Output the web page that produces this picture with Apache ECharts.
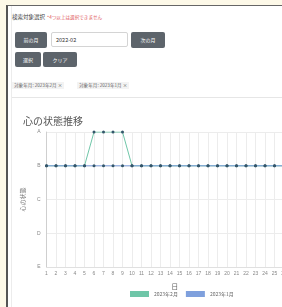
<!DOCTYPE html>
<html>
<head>
<meta charset="utf-8">
<script src="https://cdn.jsdelivr.net/npm/echarts@6/dist/echarts.min.js"></script>
<style>
  html, body { margin: 0; padding: 0; width: 282px; height: 307px; overflow: hidden; background: #fdf9e8; font-family: "Noto Sans CJK JP", sans-serif; }
  .frame { position: absolute; left: 6px; top: 5px; width: 400px; height: 320px; border-top: 1px solid #666; border-left: 2px solid #555; background: #fff; }
  .card { position: absolute; left: 11px; top: 6px; width: 400px; height: 320px; border-left: 1px solid #ececec; }
  .lbl { position: absolute; left: 12px; top: 13px; font-size: 5.5px; color: #444; white-space: nowrap; }
  .lbl span { color: #e0565b; font-size: 4.6px; margin-left: 2px; }
  .btn { position: absolute; background: #5d646b; color: #fff; font-size: 5px; border-radius: 2px; text-align: center; }
  .inp { position: absolute; left: 51px; top: 32px; width: 77px; height: 15px; border: 1px solid #d4d4d4; border-radius: 2px; font-size: 5.5px; color: #333; line-height: 15px; padding-left: 4px; box-sizing: border-box; }
  .tag { position: absolute; top: 82px; font-size: 4.6px; color: #666; background: #f3f3f3; padding: 0 2px; line-height: 7px; white-space: nowrap; }
  .sep { position: absolute; left: 12px; top: 97px; width: 300px; height: 1px; background: #e6e6e6; }
  #chart { position: absolute; left: 12px; top: 100px; width: 330px; height: 207px; }
</style>
</head>
<body>
<div class="frame"></div>
<div class="card"></div>
<div class="lbl">検索対象選択<span>*4つ以上は選択できません</span></div>
<div class="btn" style="left:15px;top:32px;width:32px;height:16px;line-height:16px;">前の月</div>
<div class="inp">2022-02</div>
<div class="btn" style="left:131px;top:32px;width:34px;height:16px;line-height:16px;">次の月</div>
<div class="btn" style="left:15px;top:52px;width:26px;height:15px;line-height:15px;">選択</div>
<div class="btn" style="left:43px;top:52px;width:34px;height:15px;line-height:15px;">クリア</div>
<div class="tag" style="left:12px;">対象年月: 2023年2月 ×</div>
<div class="tag" style="left:77px;">対象年月: 2023年1月 ×</div>
<div class="sep"></div>
<div id="chart"></div>
<script>
// days of the month
const days = [];
for (let d = 1; d <= 28; d++) days.push(String(d));
// mood levels, bottom to top
const levels = ['E', 'D', 'C', 'B', 'A'];
const seriesNames = ['2023年2月', '2023年1月'];
const feb = ['B','B','B','B','B','A','A','A','A','B','B','B','B','B','B','B','B','B','B','B','B','B','B','B','B','B','B','B'];
const jan = ['B','B','B','B','B','B','B','B','B','B','B','B','B','B','B','B','B','B','B','B','B','B','B','B','B','B','B','B'];
const lineColors = ['#6fc6a8', '#7fa0dd'];

const myChart = echarts.init(document.getElementById('chart'));
myChart.setOption({
  title: {
    text: '心の状態推移',
    left: 6,
    top: 11,
    textStyle: { fontSize: 10, fontWeight: 'normal', color: '#555', fontFamily: 'Noto Sans CJK JP' }
  },
  legend: {
    bottom: 5,
    left: 113,
    icon: 'rect',
    itemWidth: 19,
    itemHeight: 6,
    itemGap: 8,
    textStyle: { fontSize: 5, color: '#666', fontFamily: 'Noto Sans CJK JP' },
    data: [
      { name: seriesNames[0], itemStyle: { color: lineColors[0] } },
      { name: seriesNames[1], itemStyle: { color: lineColors[1] } }
    ]
  },
  grid: { left: 32, right: 39, top: 32, bottom: 40 },
  xAxis: {
    type: 'category',
    data: days,
    boundaryGap: false,
    name: '日',
    nameLocation: 'middle',
    nameGap: 16,
    nameTextStyle: { fontSize: 7, color: '#666', fontFamily: 'Noto Sans CJK JP' },
    axisLine: { lineStyle: { color: '#e0e0e0' } },
    axisTick: { show: false },
    axisLabel: { fontSize: 5, color: '#888', margin: 4, interval: 0 },
    splitLine: { show: true, lineStyle: { color: '#ececec', width: 1 } }
  },
  yAxis: {
    type: 'category',
    data: levels,
    boundaryGap: false,
    name: '心の状態',
    nameLocation: 'middle',
    nameRotate: 90,
    nameGap: 16,
    nameTextStyle: { fontSize: 6, color: '#777', fontFamily: 'Noto Sans CJK JP' },
    axisLine: { show: true, lineStyle: { color: '#cfcfcf' } },
    axisTick: { show: false },
    axisLabel: { fontSize: 5, color: '#888', margin: 6 },
    splitLine: { show: true, lineStyle: { color: '#ececec' } }
  },
  series: [
    {
      name: seriesNames[0],
      type: 'line',
      data: feb,
      symbol: 'circle',
      symbolSize: 3,
      lineStyle: { color: lineColors[0], width: 1 },
      itemStyle: { color: '#33566a' }
    },
    {
      name: seriesNames[1],
      type: 'line',
      data: jan,
      symbol: 'circle',
      symbolSize: 3,
      lineStyle: { color: lineColors[1], width: 1 },
      itemStyle: { color: '#33566a' }
    }
  ]
});
</script>
</body>
</html>
